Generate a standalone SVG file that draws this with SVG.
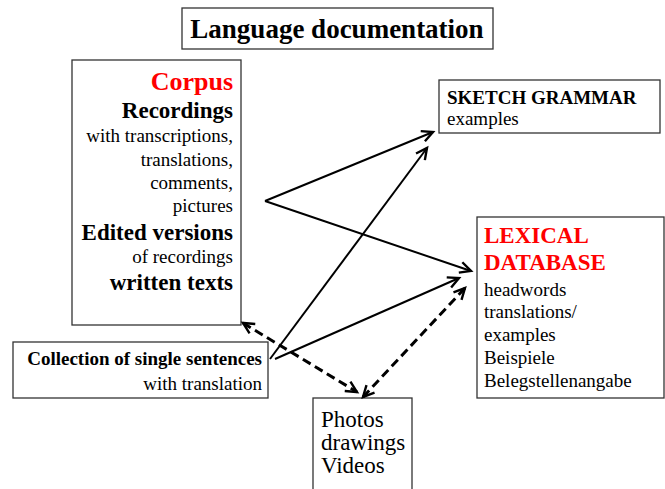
<svg xmlns="http://www.w3.org/2000/svg" width="665" height="489" viewBox="0 0 665 489">
<style>
.box{fill:#fff;stroke:#333;stroke-width:1.3}
.t{font-family:"Liberation Serif","Times New Roman",serif;fill:#000}
.b{font-weight:bold}
.red{fill:#ff0000}
.s19{font-size:19px}
.s23{font-size:23px}
.end{text-anchor:end}
.con{fill:none;stroke:#000;stroke-width:2}
.dash{fill:none;stroke:#000;stroke-width:3;stroke-dasharray:9,5}
</style>
<defs>
<marker id="ah" markerUnits="userSpaceOnUse" markerWidth="16" markerHeight="16" viewBox="-13 -8 16 16" refX="0" refY="0" orient="auto-start-reverse">
<path d="M-11,-5.5 L0,0 L-11,5.5" fill="none" stroke="#000" stroke-width="2.4"/>
</marker>
</defs>
<rect width="665" height="489" fill="#fff"/>
<g id="title">
<rect class="box" x="182" y="8" width="311" height="41"/>
<text class="t b" x="337" y="38" font-size="27" text-anchor="middle">Language documentation</text>
</g>
<g id="corpus">
<rect class="box" x="72" y="60" width="169" height="265"/>
<text class="t b red end" x="233" y="90" font-size="26">Corpus</text>
<text class="t b s23 end" x="233" y="118">Recordings</text>
<text class="t s19 end" x="233" y="142">with transcriptions,</text>
<text class="t s19 end" x="233" y="166">translations,</text>
<text class="t s19 end" x="233" y="189">comments,</text>
<text class="t s19 end" x="233" y="212">pictures</text>
<text class="t b s23 end" x="233" y="240">Edited versions</text>
<text class="t s19 end" x="233" y="263">of recordings</text>
<text class="t b s23 end" x="233" y="290">written texts</text>
</g>
<g id="sketch">
<rect class="box" x="439" y="80" width="221" height="53"/>
<text class="t b s19" x="447" y="104">SKETCH GRAMMAR</text>
<text class="t s19" x="447" y="125">examples</text>
</g>
<g id="lexical">
<rect class="box" x="477" y="217" width="187" height="181"/>
<text class="t b s23 red" x="484" y="243">LEXICAL</text>
<text class="t b s23 red" x="484" y="270">DATABASE</text>
<text class="t s19" x="484" y="296">headwords</text>
<text class="t s19" x="484" y="318">translations/</text>
<text class="t s19" x="484" y="341">examples</text>
<text class="t s19" x="484" y="364">Beispiele</text>
<text class="t s19" x="484" y="387">Belegstellenangabe</text>
</g>
<g id="collection">
<rect class="box" x="13" y="342" width="255" height="56"/>
<text class="t b s19 end" x="262" y="365">Collection of single sentences</text>
<text class="t s19 end" x="262" y="390">with translation</text>
</g>
<g id="photos">
<rect class="box" x="313" y="398" width="99" height="100"/>
<text class="t s23" x="321" y="427">Photos</text>
<text class="t s23" x="321" y="450">drawings</text>
<text class="t s23" x="321" y="473">Videos</text>
</g>
<g id="connectors">
<path class="con" d="M265,201 L433,132" marker-end="url(#ah)"/>
<path class="con" d="M265,201 L471,271" marker-end="url(#ah)"/>
<path class="con" d="M270,359 L427,148" marker-end="url(#ah)"/>
<path class="con" d="M275,359 L459,278" marker-end="url(#ah)"/>
<path class="dash" d="M243,323 L357,392" marker-start="url(#ah)" marker-end="url(#ah)"/>
<path class="dash" d="M363,397 L465,288" marker-start="url(#ah)" marker-end="url(#ah)"/>
</g>
</svg>
